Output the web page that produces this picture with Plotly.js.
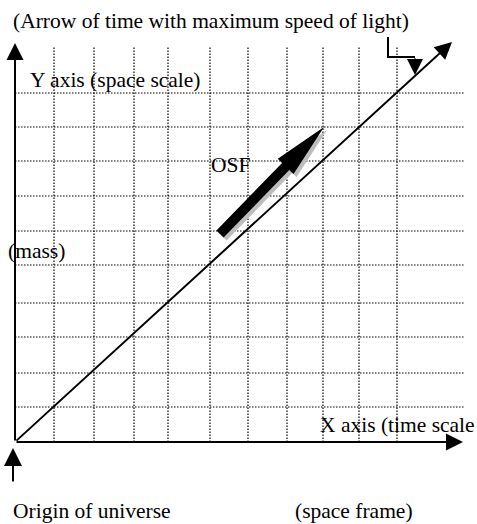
<!DOCTYPE html>
<html>
<head>
<meta charset="utf-8">
<script src="https://cdn.plot.ly/plotly-3.0.1.min.js"></script>
<style>html,body{margin:0;padding:0;background:#fff;}#chart{width:477px;height:524px;}</style>
</head>
<body>
<div id="chart"></div>
<script>
// Diagram values (units: time along x, space along y, origin of universe at 0,0)
const timeGridX = [39, 79, 119, 153, 195, 233, 272, 308, 344, 382];
const spaceGridY = [35, 69, 105, 139, 177, 211, 246, 281, 315, 349];
const lightPathX = [0, 437];
const lightPathY = [0, 400];
const osfX = [205, 309];
const osfY = [208, 315];
const pointerX = [373, 373, 400, 400];
const pointerY = [405, 385, 385, 367];
const originMarkX = [-2, -2];
const originMarkY = [-41, -6];
const axisEndX = 448;
const axisEndY = 399;
const labelTexts = ['(Arrow of time with maximum speed of light)', 'Y axis (space scale)', 'OSF', '(mass)', 'X axis (time scale', 'Origin of universe', '(space frame)'];

const FONT = 'Liberation Serif, Times New Roman, serif';
const FS = 21.5;

// grid lines
const gx = [], gy = [];
timeGridX.forEach(v => { gx.push(v, v, null); gy.push(0, 396, null); });
const hx = [], hy = [];
spaceGridY.forEach(v => { hx.push(0, 450, null); hy.push(v, v, null); });

function arrowPoly(x0, y0, x1, y1, sw, hw, hl, ox, oy) {
  const dx = x1 - x0, dy = y1 - y0, L = Math.hypot(dx, dy);
  const ux = dx / L, uy = dy / L, nx = -uy, ny = ux;
  const bx = x1 - ux * hl, by = y1 - uy * hl;
  const pts = [
    [x0 + nx * sw / 2, y0 + ny * sw / 2],
    [bx + nx * sw / 2, by + ny * sw / 2],
    [bx + nx * hw / 2, by + ny * hw / 2],
    [x1, y1],
    [bx - nx * hw / 2, by - ny * hw / 2],
    [bx - nx * sw / 2, by - ny * sw / 2],
    [x0 - nx * sw / 2, y0 - ny * sw / 2],
    [x0 + nx * sw / 2, y0 + ny * sw / 2]
  ];
  return { x: pts.map(p => p[0] + ox), y: pts.map(p => p[1] + oy) };
}
const shadow = arrowPoly(osfX[0], osfY[0], osfX[1], osfY[1], 10, 22, 55, 3, -3);
const osf = arrowPoly(osfX[0], osfY[0], osfX[1], osfY[1], 10, 22, 55, 0, 0);

const gridLine = { color: '#000', width: 1.2, dash: '1.5px,1.5px' };
const traces = [
  { x: gx, y: gy, mode: 'lines', line: gridLine, hoverinfo: 'skip' },
  { x: hx, y: hy, mode: 'lines', line: gridLine, hoverinfo: 'skip' },
  { x: shadow.x, y: shadow.y, mode: 'lines', fill: 'toself', fillcolor: '#bdbdbd', line: { width: 0, color: '#bdbdbd' }, hoverinfo: 'skip' },
  { x: osf.x, y: osf.y, mode: 'lines', fill: 'toself', fillcolor: '#000', line: { width: 0, color: '#000' }, hoverinfo: 'skip' },
  { x: pointerX.slice(0, 3), y: pointerY.slice(0, 3), mode: 'lines', line: { color: '#000', width: 2 }, hoverinfo: 'skip' }
];

function arrow(x0, y0, x1, y1, w, size) {
  return { x: x1, y: y1, ax: x0, ay: y0, xref: 'x', yref: 'y', axref: 'x', ayref: 'y',
    text: '', showarrow: true, arrowhead: 2, arrowwidth: w, arrowsize: size, arrowcolor: '#000', standoff: 0 };
}
function label(i, x, y) {
  return { x: x, y: y, xref: 'x', yref: 'y', text: labelTexts[i], showarrow: false,
    xanchor: 'left', yanchor: 'middle', font: { family: FONT, size: FS, color: '#000' } };
}

const annotations = [
  arrow(0, 0, 0, axisEndY, 2, 1.7),
  arrow(0, 0, axisEndX, 0, 2, 1.7),
  arrow(lightPathX[0], lightPathY[0], lightPathX[1], lightPathY[1], 2, 1.7),
  arrow(pointerX[2], pointerY[2], pointerX[3], pointerY[3], 2, 1.6),
  arrow(originMarkX[0], originMarkY[0], originMarkX[1], originMarkY[1], 2, 1.8),
  label(0, -4, 421),
  label(1, 13, 362),
  label(2, 194, 277),
  label(3, -9, 191),
  label(4, 303, 17),
  label(5, -4, -69),
  label(6, 278, -69)
];

const layout = {
  width: 477, height: 524,
  margin: { l: 0, r: 0, t: 0, b: 0, pad: 0 },
  paper_bgcolor: '#fff', plot_bgcolor: '#fff',
  showlegend: false,
  xaxis: { range: [-15, 462], visible: false, fixedrange: true },
  yaxis: { range: [-82, 442], visible: false, fixedrange: true },
  annotations: annotations
};

Plotly.newPlot('chart', traces, layout, { staticPlot: true, displayModeBar: false });
</script>
</body>
</html>
